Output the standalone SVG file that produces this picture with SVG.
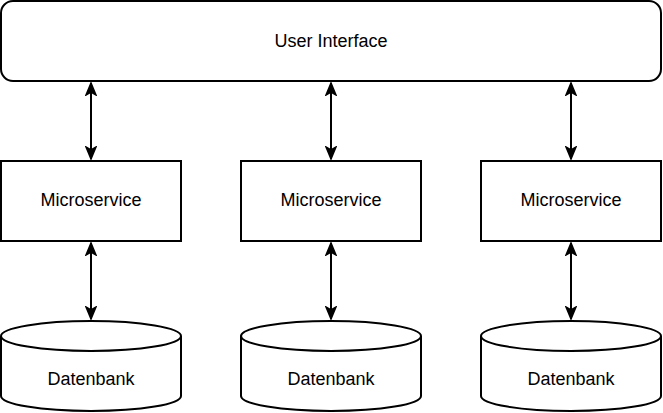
<svg xmlns="http://www.w3.org/2000/svg" width="663" height="413" viewBox="0 0 663 413">
<style>
.s{fill:#fff;stroke:#000;stroke-width:2}
.t{font-family:"Liberation Sans",Arial,sans-serif;font-size:18px;fill:#000;text-anchor:middle}
.c{stroke:#000;stroke-width:2;fill:none;marker-start:url(#a);marker-end:url(#a)}
</style>
<defs>
<marker id="a" viewBox="0 0 14 12" refX="13" refY="6" markerWidth="14" markerHeight="12" orient="auto-start-reverse" markerUnits="userSpaceOnUse">
<path d="M1,1 L13,6 L1,11 L4,6 Z" fill="#000" stroke="#000" stroke-width="1.5" stroke-linejoin="miter"/>
</marker>
</defs>
<rect width="663" height="413" fill="#fff"/>
<g id="connectors">
<line class="c" x1="91" y1="83" x2="91" y2="159"/>
<line class="c" x1="331" y1="83" x2="331" y2="159"/>
<line class="c" x1="571" y1="83" x2="571" y2="159"/>
<line class="c" x1="91" y1="243" x2="91" y2="319"/>
<line class="c" x1="331" y1="243" x2="331" y2="319"/>
<line class="c" x1="571" y1="243" x2="571" y2="319"/>
</g>
<g id="ui">
<rect class="s" x="1" y="1" width="660" height="80" rx="12"/>
<text class="t" x="331" y="47">User Interface</text>
</g>
<g id="ms1">
<rect class="s" x="1" y="161" width="180" height="80"/>
<text class="t" x="91" y="206">Microservice</text>
</g>
<g id="ms2">
<rect class="s" x="241" y="161" width="180" height="80"/>
<text class="t" x="331" y="206">Microservice</text>
</g>
<g id="ms3">
<rect class="s" x="481" y="161" width="180" height="80"/>
<text class="t" x="571" y="206">Microservice</text>
</g>
<g id="db1">
<path class="s" d="M1,336 A90,15 0 0 1 181,336 L181,396 A90,15 0 0 1 1,396 Z"/>
<path class="s" fill="none" d="M1,336 A90,15 0 0 0 181,336"/>
<text class="t" x="91" y="385">Datenbank</text>
</g>
<g id="db2">
<path class="s" d="M241,336 A90,15 0 0 1 421,336 L421,396 A90,15 0 0 1 241,396 Z"/>
<path class="s" fill="none" d="M241,336 A90,15 0 0 0 421,336"/>
<text class="t" x="331" y="385">Datenbank</text>
</g>
<g id="db3">
<path class="s" d="M481,336 A90,15 0 0 1 661,336 L661,396 A90,15 0 0 1 481,396 Z"/>
<path class="s" fill="none" d="M481,336 A90,15 0 0 0 661,336"/>
<text class="t" x="571" y="385">Datenbank</text>
</g>
</svg>
